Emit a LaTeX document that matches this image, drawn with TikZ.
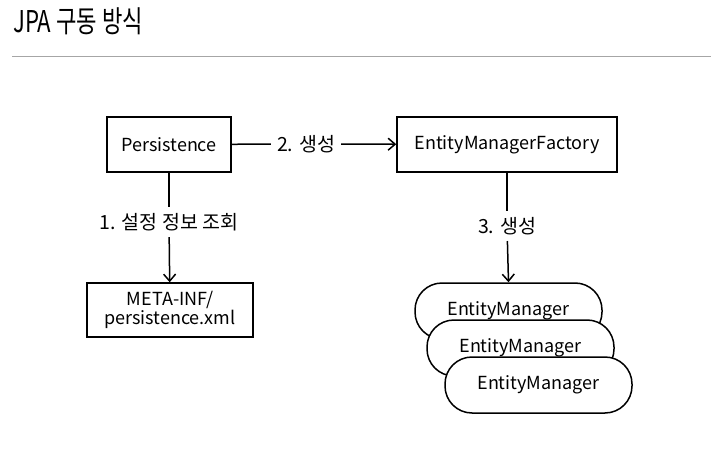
\documentclass[tikz,border=0pt]{standalone}
\usepackage{fontspec}
\setmainfont{Noto Sans CJK KR}
\usetikzlibrary{arrows.meta}
\begin{document}
\begin{tikzpicture}[x=1pt,y=-1pt,
	box/.style={draw,line width=1.5pt,minimum height=55pt,inner sep=2pt,font=\fontsize{18}{21}\selectfont},
	pill/.style={draw,fill=white,line width=1.5pt,rounded corners=27pt,minimum width=187pt,minimum height=56pt,font=\fontsize{18}{21}\selectfont},
	lbl/.style={inner sep=6pt,font=\fontsize{19.5}{22}\selectfont},
	arr/.style={-{Straight Barb[length=7pt,width=12pt]},line width=1.5pt}]
			\useasboundingbox (0,0) rectangle (718,460);
			% title
			\node[anchor=base west,inner sep=0pt,font=\fontsize{30}{33}\selectfont,xscale=0.74] (title) at (13,33) {JPA 구동 방식};
			\draw[line width=1pt,black!35] (12,57) -- (711,57);
			% boxes
			\node[box,minimum width=124pt] (pers) at (169,144.5) {Persistence};
			\node[box,minimum width=220pt] (emf) at (507,144.5) {EntityManagerFactory};
			\node[box,minimum width=166pt,minimum height=54pt,align=center,font=\fontsize{18}{19}\selectfont] (meta) at (170,310) {META-INF/\\persistence.xml};
			% entity managers
			\node[pill] (em1) at (508.5,311) {EntityManager};
			\node[pill] (em2) at (520.5,348) {EntityManager};
			\node[pill] (em3) at (538.5,385) {EntityManager};
			% labels
			\node[lbl] (create2) at (306,144) {2. 생성};
			\node[lbl] (lookup) at (169,222) {1. 설정 정보 조회};
			\node[lbl] (create3) at (507,226) {3. 생성};
			% connectors
			\draw[line width=1.5pt] (pers) -- (create2);
			\draw[arr] (create2) -- (emf);
			\draw[line width=1.5pt] (pers) -- (lookup);
			\draw[arr] (lookup) -- (meta);
			\draw[line width=1.5pt] (emf.south) -- (create3);
			\draw[arr] (create3) -- (em1.north);
		\end{tikzpicture}
\end{document}
